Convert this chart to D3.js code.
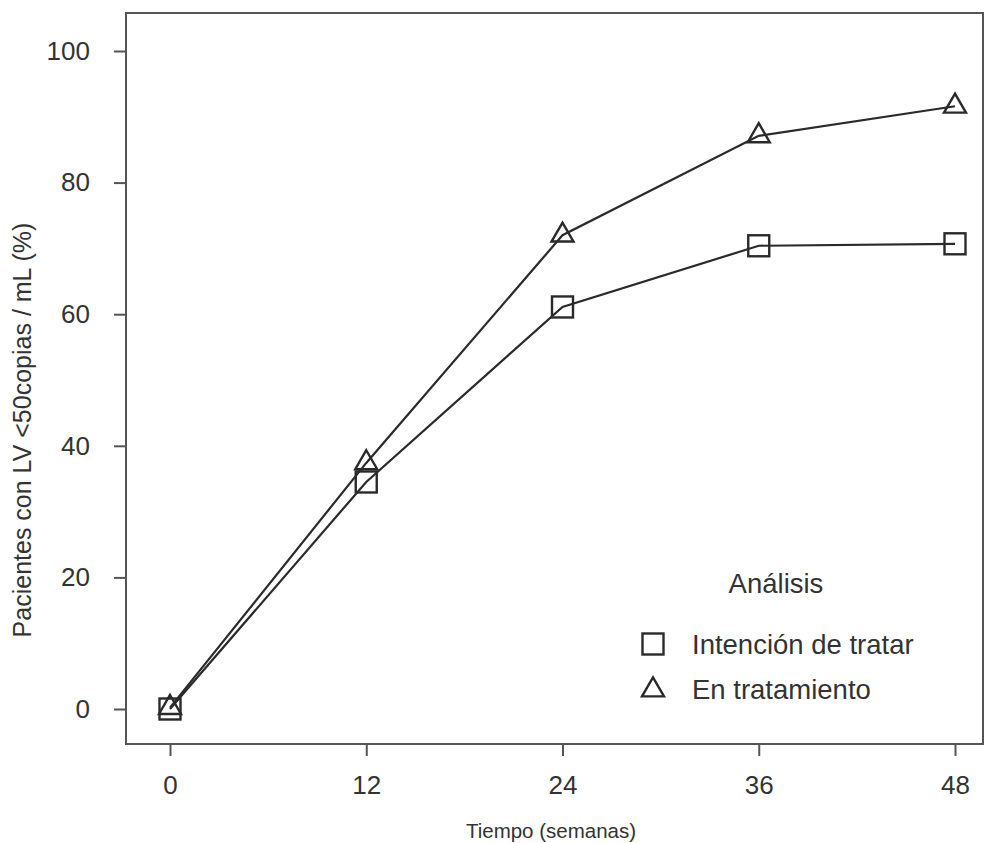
<!DOCTYPE html>
<html>
<head>
<meta charset="utf-8">
<script src="https://cdn.jsdelivr.net/npm/d3@7"></script>
<style>
  body { margin: 0; background: #fff; }
  text { font-family: "Liberation Sans", Arial, sans-serif; fill: #333; }
</style>
</head>
<body>
<div id="chart"></div>
<script>
// data
var weeks = [0, 12, 24, 36, 48];
var itt = [0, 34.5, 61.1, 70.4, 70.7];      // Intención de tratar (squares)
var onTreat = [0.2, 37.4, 72.0, 87.1, 91.6]; // En tratamiento (triangles)
var xTicks = [0, 12, 24, 36, 48];
var yTicks = [0, 20, 40, 60, 80, 100];
var legendLabels = ["Intención de tratar", "En tratamiento"];

var W = 985, H = 843;
var box = {left: 126, right: 983, top: 13, bottom: 744};

var svg = d3.select("#chart").append("svg")
    .attr("width", W)
    .attr("height", H);

var x = d3.scaleLinear().domain([0, 48]).range([170, 955]);
var y = d3.scaleLinear().domain([0, 100]).range([709, 51]);

// frame
svg.append("rect")
    .attr("x", box.left)
    .attr("y", box.top)
    .attr("width", box.right - box.left)
    .attr("height", box.bottom - box.top)
    .attr("fill", "none")
    .attr("stroke", "#555")
    .attr("stroke-width", 2);

// axes
var xAxis = svg.append("g")
    .attr("transform", "translate(0," + box.bottom + ")")
    .call(d3.axisBottom(x).tickValues(xTicks).tickSize(12).tickPadding(20).tickSizeOuter(0));
var yAxis = svg.append("g")
    .attr("transform", "translate(" + box.left + ",0)")
    .call(d3.axisLeft(y).tickValues(yTicks).tickSize(12).tickPadding(24).tickSizeOuter(0));

[xAxis, yAxis].forEach(function(g) {
  g.select(".domain").remove();
  g.selectAll(".tick line").attr("stroke", "#555").attr("stroke-width", 2);
  g.selectAll(".tick text")
    .style("font-family", "'Liberation Sans', Arial, sans-serif")
    .style("font-size", "26px")
    .attr("fill", "#333");
});

// axis titles
svg.append("text")
    .attr("x", 551)
    .attr("y", 838)
    .attr("text-anchor", "middle")
    .style("font-size", "20.5px")
    .text("Tiempo (semanas)");

svg.append("text")
    .attr("transform", "translate(31,430) rotate(-90)")
    .attr("text-anchor", "middle")
    .style("font-size", "25px")
    .text("Pacientes con LV <50copias / mL (%)");

// lines
var line = d3.line()
    .x(function(d, i) { return x(weeks[i]); })
    .y(function(d) { return y(d); });

[itt, onTreat].forEach(function(s) {
  svg.append("path")
      .datum(s)
      .attr("d", line)
      .attr("fill", "none")
      .attr("stroke", "#2a2a2a")
      .attr("stroke-width", 2.2);
});

// markers
function square(g, cx, cy) {
  g.append("rect")
      .attr("x", cx - 10.5).attr("y", cy - 10.5)
      .attr("width", 21).attr("height", 21)
      .attr("fill", "none")
      .attr("stroke", "#2a2a2a")
      .attr("stroke-width", 2.4);
}
function triangle(g, cx, cy) {
  var h = 19, w = 22;
  g.append("path")
      .attr("d", "M" + cx + "," + (cy - h * 2 / 3) +
                 "L" + (cx + w / 2) + "," + (cy + h / 3) +
                 "L" + (cx - w / 2) + "," + (cy + h / 3) + "Z")
      .attr("fill", "none")
      .attr("stroke", "#2a2a2a")
      .attr("stroke-width", 2.4);
}

var marks = svg.append("g");
itt.forEach(function(v, i) { square(marks, x(weeks[i]), y(v)); });
onTreat.forEach(function(v, i) { triangle(marks, x(weeks[i]), y(v)); });

// legend
var leg = svg.append("g");
leg.append("text")
    .attr("x", 776).attr("y", 593)
    .attr("text-anchor", "middle")
    .style("font-size", "27.5px")
    .text("Análisis");
square(leg, 653, 644);
triangle(leg, 653, 690);
legendLabels.forEach(function(t, i) {
  leg.append("text")
      .attr("x", 692).attr("y", 654 + i * 45)
      .style("font-size", "27.5px")
      .text(t);
});
</script>
</body>
</html>
